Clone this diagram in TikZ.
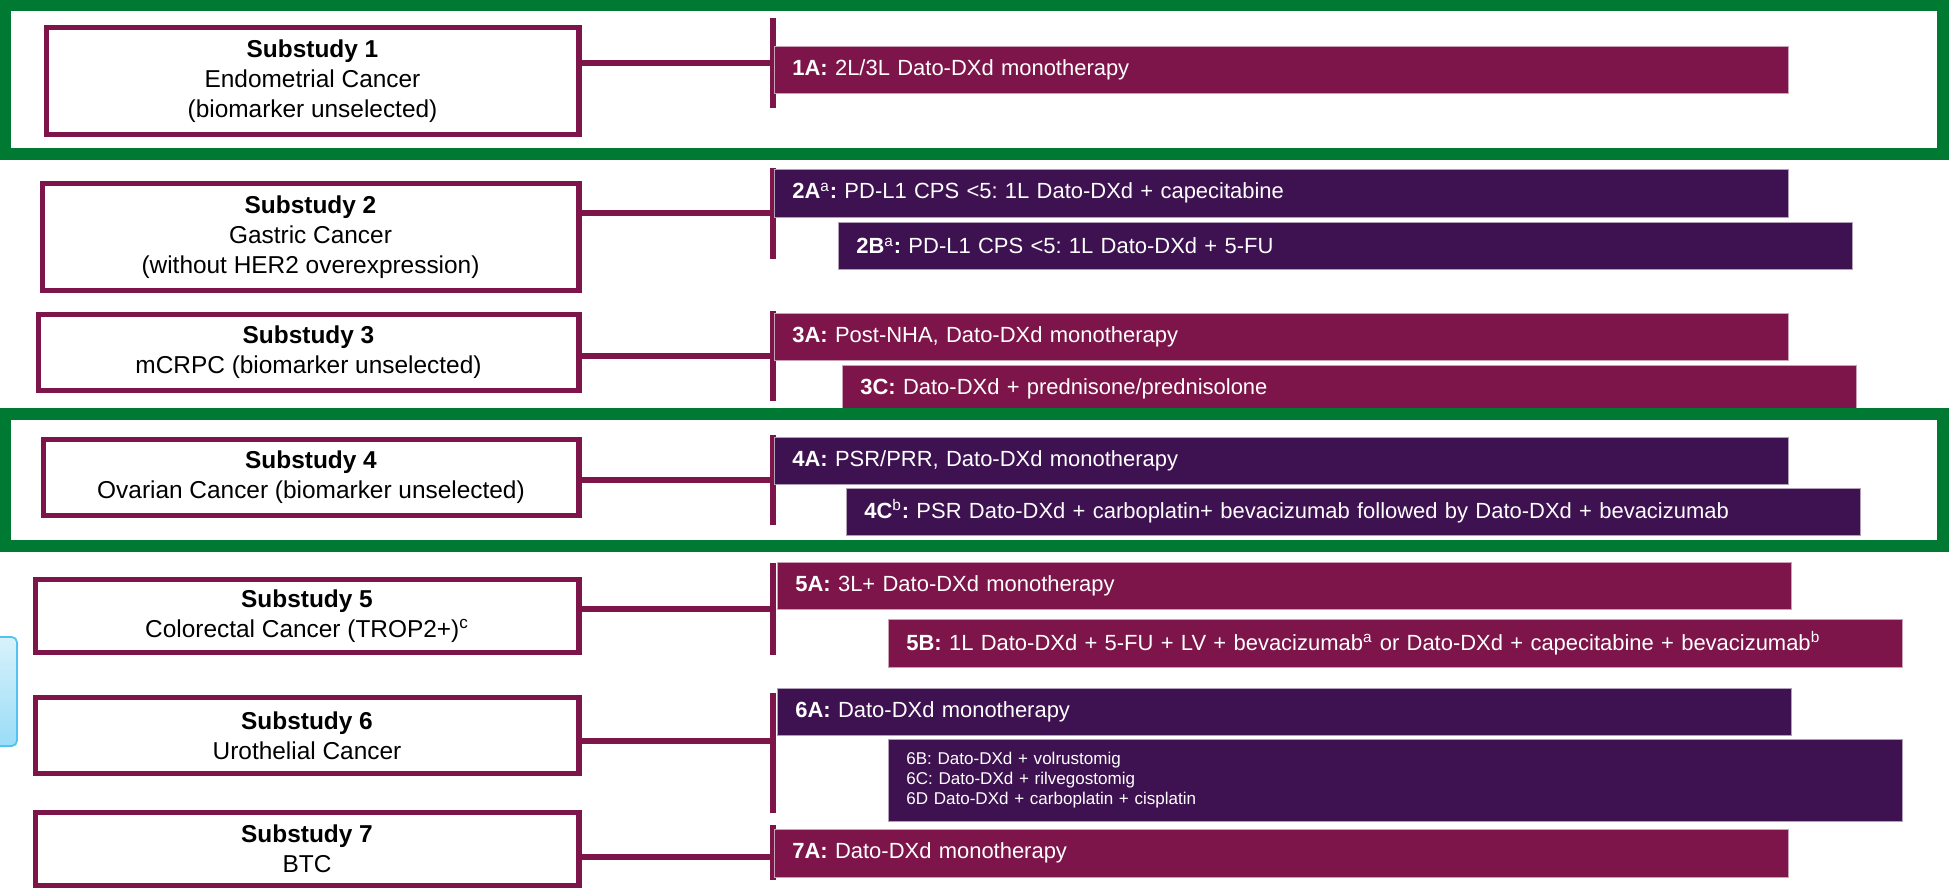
\documentclass[tikz,border=0pt]{standalone}
\usepackage{fontspec}
\setmainfont{Liberation Sans}
\usetikzlibrary{positioning}
\definecolor{armmaroon}{RGB}{126,21,74}
\definecolor{armpurple}{RGB}{62,17,80}
\definecolor{framegreen}{RGB}{0,122,51}
\definecolor{tabcyan}{RGB}{80,195,240}
\frenchspacing

\begin{document}
\begin{tikzpicture}[x=0.02cm, y=-0.02cm,
  substudy/.style={draw=armmaroon, line width=2.9pt, fill=white, anchor=east, align=center, inner sep=0pt, font=\fontsize{13.9}{17}\selectfont},
  arm/.style={line width=0.4pt, anchor=west, text=white, align=left, text width=19.56cm, inner xsep=0.36cm, inner ysep=0pt, minimum height=0.94cm, font=\fontsize{12.5}{15}\selectfont},
  armM/.style={arm, fill=armmaroon, draw=armmaroon!40!white},
  armP/.style={arm, fill=armpurple, draw=armpurple!40!white},
  link/.style={draw=armmaroon, line width=2.9pt},
  trunk/.style={draw=armmaroon, line width=3.4pt},
  focus/.style={draw=framegreen, line width=6.3pt}]
  \useasboundingbox (0,0) rectangle (1949,890);

  % left tab (cut off)
  \draw[tabcyan, line width=1pt, rounded corners=3pt, top color=tabcyan!22!white, bottom color=tabcyan!58!white] (-10,637) rectangle (17,746);

  % substudy boxes
  \node[substudy, minimum width=10.66cm, minimum height=2.14cm] (s1) at (581.5,81) {\textbf{Substudy 1}\\Endometrial Cancer\\(biomarker unselected)};
  \node[substudy, minimum width=10.74cm, minimum height=2.14cm] (s2) at (581.5,237) {\textbf{Substudy 2}\\Gastric Cancer\\(without HER2 overexpression)};
  \node[substudy, minimum width=10.82cm, minimum height=1.52cm] (s3) at (581.5,352.5) {\textbf{Substudy 3}\\mCRPC (biomarker unselected)};
  \node[substudy, minimum width=10.72cm, minimum height=1.52cm] (s4) at (581.5,477.5) {\textbf{Substudy 4}\\Ovarian Cancer (biomarker unselected)};
  \node[substudy, minimum width=10.88cm, minimum height=1.46cm] (s5) at (581.5,616) {\textbf{Substudy 5}\\Colorectal Cancer (TROP2+)\textsuperscript{c}};
  \node[substudy, minimum width=10.88cm, minimum height=1.52cm] (s6) at (581.5,735.5) {\textbf{Substudy 6}\\Urothelial Cancer};
  \node[substudy, minimum width=10.88cm, minimum height=1.46cm] (s7) at (581.5,849) {\textbf{Substudy 7}\\BTC};

  % trunks and links
  \foreach \n/\a/\b/\m in {1/18/108/63, 2/168/259/213, 3/311/401/356, 4/435/525/480, 5/563/655/609, 6/693/813/741, 7/825/880/857} {
    \coordinate (t\n) at (773,\m);
    \draw[trunk] (773,\a) -- (773,\b);
    \draw[link] (s\n.east |- t\n) -- (t\n);
  }

  % arms
  \node[armM] (a1) at (774,70) {\textbf{1A:} 2L/3L Dato-DXd monotherapy};
  \node[armP, minimum height=0.96cm] (a2) at (774,193) {\textbf{2A}\textsuperscript{a}\textbf{:} PD-L1 CPS <5: 1L Dato-DXd + capecitabine};
  \node[armP] (b2) at (838,246) {\textbf{2B}\textsuperscript{a}\textbf{:} PD-L1 CPS <5: 1L Dato-DXd + 5-FU};
  \node[armM] (a3) at (774,336.5) {\textbf{3A:} Post-NHA, Dato-DXd monotherapy};
  \node[armM] (c3) at (842,389) {\textbf{3C:} Dato-DXd + prednisone/prednisolone};
  \node[armP] (a4) at (774,461) {\textbf{4A:} PSR/PRR, Dato-DXd monotherapy};
  \node[armP] (c4) at (846,511.5) {\textbf{4C}\textsuperscript{b}\textbf{:} PSR Dato-DXd + carboplatin+ bevacizumab followed by Dato-DXd + bevacizumab};
  \node[armM] (a5) at (777,586) {\textbf{5A:} 3L+ Dato-DXd monotherapy};
  \node[armM, minimum height=0.96cm] (b5) at (888,643) {\textbf{5B:} 1L Dato-DXd + 5-FU + LV + bevacizumab\textsuperscript{a} or Dato-DXd + capecitabine + bevacizumab\textsuperscript{b}};
  \node[armP] (a6) at (777,711.5) {\textbf{6A:} Dato-DXd monotherapy};
  \node[armP, minimum height=1.64cm, font=\fontsize{9.7}{11.4}\selectfont] (b6) at (888,780) {6B: Dato-DXd + volrustomig\\6C: Dato-DXd + rilvegostomig\\6D Dato-DXd + carboplatin + cisplatin};
  \node[armM, minimum height=0.96cm] (a7) at (774,853) {\textbf{7A:} Dato-DXd monotherapy};

  % highlight frames
  \draw[focus] (5,5) rectangle (1943,154);
  \draw[focus] (5,414) rectangle (1943,546);
\end{tikzpicture}
\end{document}
